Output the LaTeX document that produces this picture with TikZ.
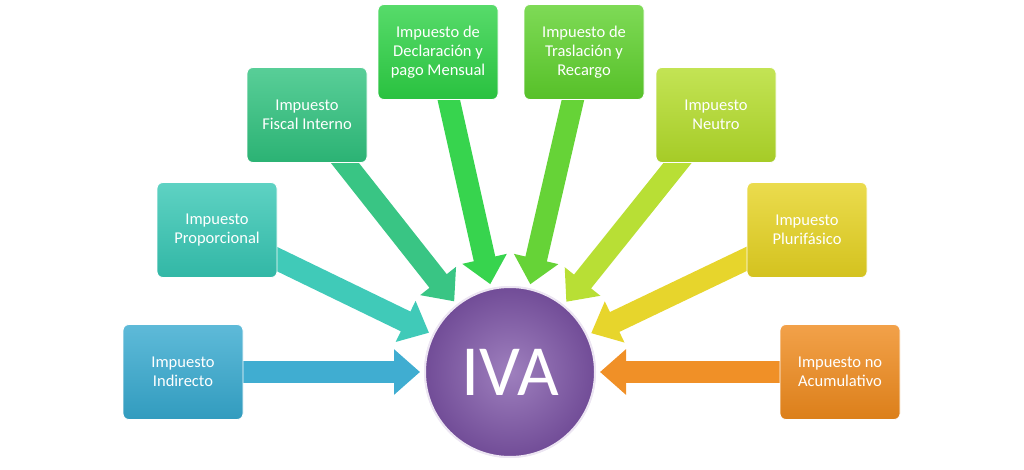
\documentclass[tikz,border=0pt]{standalone}
\usepackage{fontspec}
\setmainfont{Carlito}
\usetikzlibrary{arrows.meta}
\definecolor{c1}{HTML}{36A9CF}
\definecolor{c2}{HTML}{36C7B4}
\definecolor{c3}{HTML}{2FC27E}
\definecolor{c4}{HTML}{2DD245}
\definecolor{c5}{HTML}{5ED12C}
\definecolor{c6}{HTML}{B4DD2A}
\definecolor{c7}{HTML}{E6D321}
\definecolor{c8}{HTML}{EF8A1C}
\definecolor{cv}{HTML}{7E55A8}
\tikzset{
  box/.style={draw=white,line width=0.8pt,rounded corners=6pt,minimum width=120pt,minimum height=95pt,
    align=center,text=white,font=\fontsize{16.5}{19}\selectfont,top color=#1!80!white,bottom color=#1!92!black},
  arr/.style={draw=#1,line width=22pt,-{Triangle[width=44pt,length=26pt]}},
  ivac/.style={circle,minimum size=170pt,draw=white!85!cv,line width=2pt,inner color=cv!75!white,outer color=cv!90!black,
  text=white,font=\fontsize{72}{72}\selectfont}
}
\begin{document}
\begin{tikzpicture}[x=1pt,y=-1pt]
\useasboundingbox (0,0) rectangle (1024,470);
\node[ivac] (iva) at (510,372) {};
\coordinate (b1) at (183,372);
\coordinate (b2) at (217,230);
\coordinate (b3) at (307,115);
\coordinate (b4) at (438,52);
\coordinate (b5) at (584,52);
\coordinate (b6) at (716,115);
\coordinate (b7) at (807,230);
\coordinate (b8) at (840,372);
\foreach \i/\c in {1/c1,2/c2,3/c3,4/c4,5/c5,6/c6,7/c7,8/c8}{
  \draw[arr=\c!95!white, shorten <=40pt, shorten >=90pt] (b\i) -- (iva.center);
}
\foreach \i/\c/\t in {1/c1/{Impuesto\\Indirecto},2/c2/{Impuesto\\Proporcional},3/c3/{Impuesto\\Fiscal Interno},4/c4/{Impuesto de\\Declaración y\\pago Mensual},5/c5/{Impuesto de\\Traslación y\\Recargo},6/c6/{Impuesto\\Neutro},7/c7/{Impuesto\\Plurifásico},8/c8/{Impuesto no\\Acumulativo}}{
  \node[box=\c] (n\i) at (b\i) {\t};
}
\node[ivac] (ivat) at (iva) {IVA};
\end{tikzpicture}
\end{document}
